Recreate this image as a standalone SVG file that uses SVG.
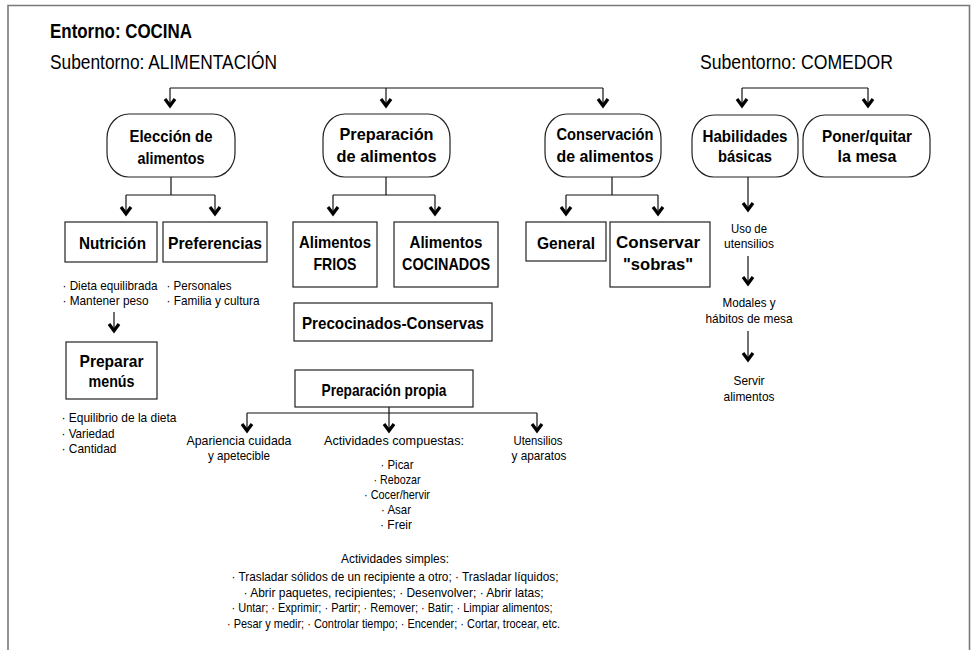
<svg xmlns="http://www.w3.org/2000/svg" width="971" height="650" viewBox="0 0 971 650">
  <style>
    .frame { fill: none; stroke: #7a7a7a; stroke-width: 1.6; }
    .node { fill: #ffffff; stroke: #222222; stroke-width: 1.2; }
    .link { fill: none; stroke: #111111; stroke-width: 1.2; }
    .arrow { marker-end: url(#chev); }
    text { fill: #000000; font-family: "Liberation Sans Narrow", "Liberation Sans", Arial, sans-serif; }
    .h1 { font-size: 21px; font-weight: bold; }
    .h2 { font-size: 19.5px; }
    .nb { font-size: 16.5px; font-weight: bold; text-anchor: middle; }
    .nb2 { font-size: 17px; font-weight: bold; text-anchor: middle; }
    .sm { font-size: 13.5px; }
    .smc { font-size: 13.5px; text-anchor: middle; }
  </style>
  <defs>
    <marker id="chev" markerUnits="userSpaceOnUse" markerWidth="14" markerHeight="14" viewBox="-9 -7 12 14" refX="0" refY="0" orient="auto" overflow="visible">
      <path d="M-8,-5 L-1.3,0 L-8,5" fill="none" stroke="#000" stroke-width="3.2" stroke-linejoin="miter" stroke-miterlimit="6"/>
    </marker>
  </defs>

  <!-- outer frame (open at the bottom) -->
  <path class="frame" d="M8,650 V5.5 H969.5 V650"/>

  <!-- headings -->
  <g id="headings">
    <text class="h1" x="50" y="38" textLength="142" lengthAdjust="spacingAndGlyphs">Entorno: COCINA</text>
    <text class="h2" x="50" y="69" textLength="227" lengthAdjust="spacingAndGlyphs">Subentorno: ALIMENTACIÓN</text>
    <text class="h2" x="700" y="69" textLength="193" lengthAdjust="spacingAndGlyphs">Subentorno: COMEDOR</text>
  </g>

  <!-- connectors -->
  <g id="connectors">
    <path class="link" d="M170,88 H603"/>
    <path class="link arrow" d="M170,88 V107"/>
    <path class="link arrow" d="M386,88 V107"/>
    <path class="link arrow" d="M603,88 V107"/>

    <path class="link" d="M742,88 H868"/>
    <path class="link arrow" d="M742,88 V107"/>
    <path class="link arrow" d="M868,88 V107"/>

    <path class="link" d="M171,177 V195 M126,195 H215"/>
    <path class="link arrow" d="M126,195 V215"/>
    <path class="link arrow" d="M215,195 V215"/>

    <path class="link" d="M386,177 V195 M333,195 H435"/>
    <path class="link arrow" d="M333,195 V215"/>
    <path class="link arrow" d="M435,195 V215"/>

    <path class="link" d="M612,177 V195 M566,195 H658"/>
    <path class="link arrow" d="M566,195 V215"/>
    <path class="link arrow" d="M658,195 V215"/>

    <path class="link arrow" d="M748,177 V211"/>
    <path class="link arrow" d="M748,256 V285"/>
    <path class="link arrow" d="M748,331 V361"/>

    <path class="link arrow" d="M114,312 V332"/>

    <path class="link" d="M389,407 V413 M247,413 H537"/>
    <path class="link arrow" d="M247,413 V432"/>
    <path class="link arrow" d="M389,413 V432"/>
    <path class="link arrow" d="M537,413 V432"/>
  </g>

  <!-- first level: rounded nodes -->
  <g id="eleccion">
    <rect class="node" x="107" y="114" width="128" height="63" rx="22" ry="24"/>
    <text class="nb" x="171" y="142" textLength="83" lengthAdjust="spacingAndGlyphs">Elección de</text>
    <text class="nb" x="171" y="164" textLength="67" lengthAdjust="spacingAndGlyphs">alimentos</text>
  </g>
  <g id="preparacion">
    <rect class="node" x="323" y="114" width="127" height="63" rx="22" ry="24"/>
    <text class="nb" x="386.5" y="140" textLength="94" lengthAdjust="spacingAndGlyphs">Preparación</text>
    <text class="nb" x="386.5" y="162" textLength="100" lengthAdjust="spacingAndGlyphs">de alimentos</text>
  </g>
  <g id="conservacion">
    <rect class="node" x="545" y="114" width="116" height="63" rx="22" ry="24"/>
    <text class="nb" x="605" y="140" textLength="97" lengthAdjust="spacingAndGlyphs">Conservación</text>
    <text class="nb" x="605" y="162" textLength="97" lengthAdjust="spacingAndGlyphs">de alimentos</text>
  </g>
  <g id="habilidades">
    <rect class="node" x="692" y="115" width="106" height="62" rx="22" ry="24"/>
    <text class="nb" x="745" y="142" textLength="85" lengthAdjust="spacingAndGlyphs">Habilidades</text>
    <text class="nb" x="745" y="162" textLength="54" lengthAdjust="spacingAndGlyphs">básicas</text>
  </g>
  <g id="poner-quitar">
    <rect class="node" x="803" y="115" width="127" height="62" rx="22" ry="24"/>
    <text class="nb" x="867" y="142" textLength="90" lengthAdjust="spacingAndGlyphs">Poner/quitar</text>
    <text class="nb" x="867" y="162" textLength="59" lengthAdjust="spacingAndGlyphs">la mesa</text>
  </g>

  <!-- second level: boxes -->
  <g id="nutricion">
    <rect class="node" x="65" y="222" width="92" height="40"/>
    <text class="nb2" x="112.5" y="249" textLength="67" lengthAdjust="spacingAndGlyphs">Nutrición</text>
    <text class="sm" x="62.5" y="290" textLength="95" lengthAdjust="spacingAndGlyphs">· Dieta equilibrada</text>
    <text class="sm" x="62.5" y="305" textLength="86" lengthAdjust="spacingAndGlyphs">· Mantener peso</text>
  </g>
  <g id="preferencias">
    <rect class="node" x="163" y="222" width="104" height="40"/>
    <text class="nb2" x="215" y="249" textLength="94" lengthAdjust="spacingAndGlyphs">Preferencias</text>
    <text class="sm" x="166.5" y="290" textLength="65" lengthAdjust="spacingAndGlyphs">· Personales</text>
    <text class="sm" x="166.5" y="305" textLength="93" lengthAdjust="spacingAndGlyphs">· Familia y cultura</text>
  </g>
  <g id="preparar-menus">
    <rect class="node" x="66" y="342" width="91" height="57"/>
    <text class="nb2" x="111.5" y="367" textLength="64" lengthAdjust="spacingAndGlyphs">Preparar</text>
    <text class="nb2" x="111.5" y="387" textLength="46" lengthAdjust="spacingAndGlyphs">menús</text>
    <text class="sm" x="61.5" y="422" textLength="115" lengthAdjust="spacingAndGlyphs">· Equilibrio de la dieta</text>
    <text class="sm" x="61.5" y="438" textLength="53" lengthAdjust="spacingAndGlyphs">· Variedad</text>
    <text class="sm" x="61.5" y="453" textLength="55" lengthAdjust="spacingAndGlyphs">· Cantidad</text>
  </g>
  <g id="alimentos-frios">
    <rect class="node" x="293" y="222" width="84" height="65"/>
    <text class="nb2" x="335" y="248" textLength="72" lengthAdjust="spacingAndGlyphs">Alimentos</text>
    <text class="nb2" x="335" y="270" textLength="43" lengthAdjust="spacingAndGlyphs">FRIOS</text>
  </g>
  <g id="alimentos-cocinados">
    <rect class="node" x="394" y="222" width="104" height="65"/>
    <text class="nb2" x="446" y="248" textLength="73" lengthAdjust="spacingAndGlyphs">Alimentos</text>
    <text class="nb2" x="446" y="270" textLength="88" lengthAdjust="spacingAndGlyphs">COCINADOS</text>
  </g>
  <g id="precocinados">
    <rect class="node" x="294" y="303" width="198" height="38"/>
    <text class="nb2" x="393" y="329" textLength="182" lengthAdjust="spacingAndGlyphs">Precocinados-Conservas</text>
  </g>
  <g id="preparacion-propia">
    <rect class="node" x="295" y="370" width="178" height="37"/>
    <text class="nb2" x="384" y="396" textLength="125" lengthAdjust="spacingAndGlyphs">Preparación propia</text>
  </g>
  <g id="general">
    <rect class="node" x="526" y="222" width="80" height="39"/>
    <text class="nb2" x="566" y="249" textLength="58" lengthAdjust="spacingAndGlyphs">General</text>
  </g>
  <g id="conservar-sobras">
    <rect class="node" x="610" y="222" width="100" height="65"/>
    <text class="nb2" x="658" y="248" textLength="84" lengthAdjust="spacingAndGlyphs">Conservar</text>
    <text class="nb2" x="658" y="270" textLength="70" lengthAdjust="spacingAndGlyphs">"sobras"</text>
  </g>

  <!-- Comedor: chain of skills -->
  <g id="uso-utensilios">
    <text class="smc" x="749" y="233" textLength="36" lengthAdjust="spacingAndGlyphs">Uso de</text>
    <text class="smc" x="749" y="248" textLength="50" lengthAdjust="spacingAndGlyphs">utensilios</text>
  </g>
  <g id="modales">
    <text class="smc" x="749" y="307" textLength="53" lengthAdjust="spacingAndGlyphs">Modales y</text>
    <text class="smc" x="749" y="323" textLength="87" lengthAdjust="spacingAndGlyphs">hábitos de mesa</text>
  </g>
  <g id="servir">
    <text class="smc" x="749" y="385" textLength="31" lengthAdjust="spacingAndGlyphs">Servir</text>
    <text class="smc" x="749" y="401" textLength="51" lengthAdjust="spacingAndGlyphs">alimentos</text>
  </g>

  <!-- Preparación propia: outcomes -->
  <g id="apariencia">
    <text class="smc" x="239" y="445" textLength="105" lengthAdjust="spacingAndGlyphs">Apariencia cuidada</text>
    <text class="smc" x="239" y="460" textLength="62" lengthAdjust="spacingAndGlyphs">y apetecible</text>
  </g>
  <g id="actividades-compuestas">
    <text class="smc" x="394" y="445" textLength="140" lengthAdjust="spacingAndGlyphs">Actividades compuestas:</text>
    <text class="smc" x="397" y="469" textLength="33" lengthAdjust="spacingAndGlyphs">· Picar</text>
    <text class="smc" x="397" y="484" textLength="47" lengthAdjust="spacingAndGlyphs">· Rebozar</text>
    <text class="smc" x="397" y="499" textLength="66" lengthAdjust="spacingAndGlyphs">· Cocer/hervir</text>
    <text class="smc" x="396" y="514" textLength="30" lengthAdjust="spacingAndGlyphs">· Asar</text>
    <text class="smc" x="396" y="529" textLength="32" lengthAdjust="spacingAndGlyphs">· Freir</text>
  </g>
  <g id="utensilios-aparatos">
    <text class="smc" x="538" y="445" textLength="49" lengthAdjust="spacingAndGlyphs">Utensilios</text>
    <text class="smc" x="539" y="460" textLength="55" lengthAdjust="spacingAndGlyphs">y aparatos</text>
  </g>
  <g id="actividades-simples">
    <text class="smc" x="395" y="563" textLength="108" lengthAdjust="spacingAndGlyphs">Actividades simples:</text>
    <text class="smc" x="395" y="581" textLength="327" lengthAdjust="spacingAndGlyphs">· Trasladar sólidos de un recipiente a otro; · Trasladar líquidos;</text>
    <text class="smc" x="393.5" y="597" textLength="300" lengthAdjust="spacingAndGlyphs">· Abrir paquetes, recipientes; · Desenvolver; · Abrir latas;</text>
    <text class="smc" x="392" y="612" textLength="321" lengthAdjust="spacingAndGlyphs">· Untar; · Exprimir; · Partir; · Remover; · Batir; · Limpiar alimentos;</text>
    <text class="smc" x="393.5" y="628" textLength="333" lengthAdjust="spacingAndGlyphs">· Pesar y medir; · Controlar tiempo; · Encender; · Cortar, trocear, etc.</text>
  </g>
</svg>
